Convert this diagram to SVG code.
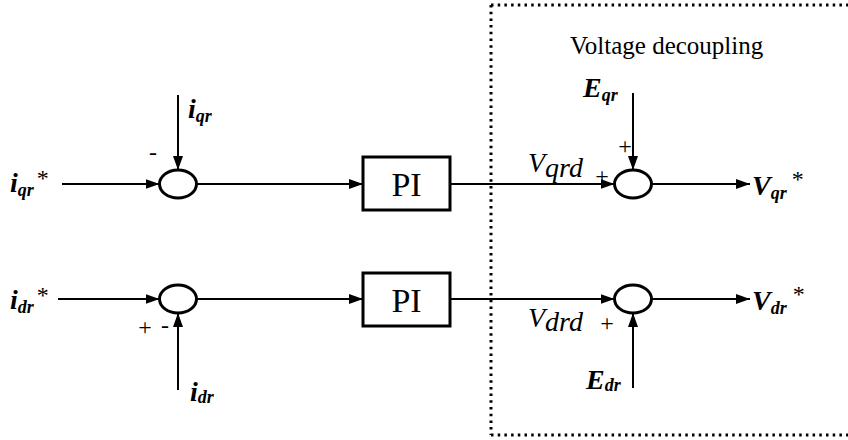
<svg xmlns="http://www.w3.org/2000/svg" width="848" height="440" viewBox="0 0 848 440">
<style>
text{font-family:'Liberation Serif','DejaVu Serif',serif;fill:#000}
.sym{font-style:italic;font-weight:bold;font-size:28px}
.sub{font-size:18px}
.vl{font-style:italic;font-size:28px}
.pi{font-size:34px;text-anchor:middle}
.sign{font-size:24px;text-anchor:middle}
.ttl{font-size:25px}
.line{stroke:#000;stroke-width:2;fill:none}
.sum{fill:#fff;stroke:#000;stroke-width:3}
.box{fill:#fff;stroke:#000;stroke-width:3}
.dot{stroke:#000;stroke-width:3;fill:none;stroke-dasharray:2.5 4.2}
</style>
<defs>
<marker id="ah" viewBox="0 0 14 10" refX="14" refY="5" markerWidth="14" markerHeight="10" markerUnits="userSpaceOnUse" orient="auto">
<path d="M0,0 L14,5 L0,10 Z" fill="#000"/>
</marker>
</defs>
<rect width="848" height="440" fill="#fff"/>
<g font-family="'Liberation Serif', 'DejaVu Serif', serif">

<g id="decoupling-frame">
<path class="dot" d="M491,5 V435 M491,5 H848 M491,435 H848"/>
<text class="ttl" x="570" y="54">Voltage decoupling</text>
</g>

<g id="connectors">
<line class="line" x1="62" y1="184" x2="159.5" y2="184" marker-end="url(#ah)"/>
<line class="line" x1="178" y1="95" x2="178" y2="170" marker-end="url(#ah)"/>
<line class="line" x1="196.5" y1="184" x2="363" y2="184" marker-end="url(#ah)"/>
<line class="line" x1="450" y1="184" x2="614.5" y2="184" marker-end="url(#ah)"/>
<line class="line" x1="633" y1="93" x2="633" y2="170" marker-end="url(#ah)"/>
<line class="line" x1="651.5" y1="184" x2="750" y2="184" marker-end="url(#ah)"/>
<line class="line" x1="58" y1="299" x2="159.5" y2="299" marker-end="url(#ah)"/>
<line class="line" x1="178" y1="390" x2="178" y2="313" marker-end="url(#ah)"/>
<line class="line" x1="196.5" y1="299" x2="363" y2="299" marker-end="url(#ah)"/>
<line class="line" x1="450" y1="299" x2="614.5" y2="299" marker-end="url(#ah)"/>
<line class="line" x1="633" y1="388" x2="633" y2="313" marker-end="url(#ah)"/>
<line class="line" x1="651.5" y1="299" x2="750" y2="299" marker-end="url(#ah)"/>
</g>

<g id="input-iqr-ref">
<text x="10" y="192"><tspan class="sym">i</tspan><tspan class="sym sub" dy="4">qr</tspan><tspan font-size="24px" dx="3" dy="-10">*</tspan></text>
</g>
<g id="input-iqr">
<text x="188" y="118"><tspan class="sym">i</tspan><tspan class="sym sub" dy="4">qr</tspan></text>
</g>
<g id="sum-q">
<ellipse class="sum" cx="178" cy="184" rx="18.5" ry="14"/>
<text class="sign" x="153" y="160">-</text>
</g>
<g id="pi-q">
<rect class="box" x="363" y="157" width="87" height="53"/>
<text class="pi" x="406.5" y="196">PI</text>
</g>
<g id="label-vqrd">
<text x="528" y="172"><tspan class="vl">V</tspan><tspan class="vl sub" dy="5">qrd</tspan></text>
</g>
<g id="input-eqr">
<text x="583" y="97"><tspan class="sym">E</tspan><tspan class="sym sub" dy="4">qr</tspan></text>
</g>
<g id="sum-vq">
<ellipse class="sum" cx="633" cy="184" rx="18.5" ry="14"/>
<text class="sign" x="625" y="154" font-size="20px">+</text>
<text class="sign" x="602" y="184" font-size="15px">+</text>
</g>
<g id="output-vqr">
<text x="752" y="195"><tspan class="sym">V</tspan><tspan class="sym sub" dy="4">qr</tspan><tspan font-size="24px" dx="5" dy="-12">*</tspan></text>
</g>

<g id="input-idr-ref">
<text x="10" y="309"><tspan class="sym">i</tspan><tspan class="sym sub" dy="4">dr</tspan><tspan font-size="24px" dx="3" dy="-10">*</tspan></text>
</g>
<g id="input-idr">
<text x="190" y="401"><tspan class="sym">i</tspan><tspan class="sym sub" dy="2">dr</tspan></text>
</g>
<g id="sum-d">
<ellipse class="sum" cx="178" cy="299" rx="18.5" ry="14"/>
<text class="sign" x="145" y="335">+</text>
<text class="sign" x="165" y="333">-</text>
</g>
<g id="pi-d">
<rect class="box" x="363" y="273" width="87" height="53"/>
<text class="pi" x="406.5" y="312">PI</text>
</g>
<g id="label-vdrd">
<text x="528" y="327"><tspan class="vl">V</tspan><tspan class="vl sub" dy="4">drd</tspan></text>
</g>
<g id="input-edr">
<text x="586" y="389"><tspan class="sym">E</tspan><tspan class="sym sub" dy="2">dr</tspan></text>
</g>
<g id="sum-vd">
<ellipse class="sum" cx="633" cy="299" rx="18.5" ry="14"/>
<text class="sign" x="607" y="331">+</text>
</g>
<g id="output-vdr">
<text x="752" y="310"><tspan class="sym">V</tspan><tspan class="sym sub" dy="4">dr</tspan><tspan font-size="24px" dx="6" dy="-12">*</tspan></text>
</g>
</g>
</svg>
